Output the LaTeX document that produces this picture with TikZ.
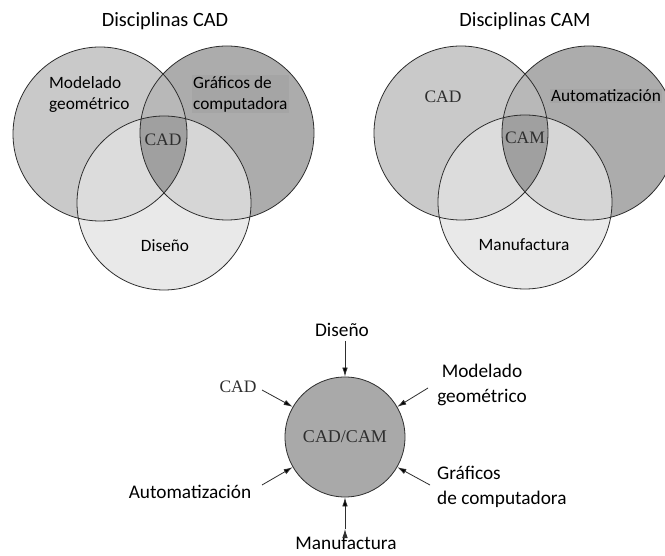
\documentclass[tikz,border=0pt]{standalone}
\usepackage{fontspec}
\setmainfont{Carlito}
\newfontfamily\timesf{Liberation Serif}
\usetikzlibrary{arrows.meta}

\definecolor{solo1}{HTML}{C9C9C9}
\definecolor{solo2}{HTML}{ACACAC}
\definecolor{solo3}{HTML}{E9E9E9}
\definecolor{uno12}{HTML}{B8B8B8}
\definecolor{uno13}{HTML}{DCDCDC}
\definecolor{uno23}{HTML}{D6D6D6}
\definecolor{todos}{HTML}{A0A0A0}
\definecolor{nucleo}{HTML}{A9A9A9}
\definecolor{linea}{HTML}{2E2E2E}

\tikzset{
    titulo/.style={font=\fontsize{20.3}{23}\selectfont},
    etiq/.style={font=\fontsize{17.3}{21}\selectfont, align=left, inner sep=1pt},
    serifa/.style={font=\timesf\fontsize{17.5}{20}\selectfont, text=black!82},
    entrada/.style={font=\fontsize{19.3}{25}\selectfont, inner sep=1pt},
    borde/.style={draw=linea, line width=0.8pt},
    flecha/.style={-{Latex[length=9pt,width=5.5pt]}, draw=linea, line width=0.8pt},
}

\newcommand{\rad}{87pt}

\begin{document}
\begin{tikzpicture}[x=1pt, y=-1pt]
    \clip (0,0) rectangle (665,556);
    \fill[white] (0,0) rectangle (665,556);

    % centros de los circulos
    \coordinate (A1) at (100,134);
    \coordinate (A2) at (227,133);
    \coordinate (A3) at (164,203);
    \coordinate (B1) at (461,133);
    \coordinate (B2) at (589,133);
    \coordinate (B3) at (525,202);

    % relleno de los dos diagramas de Venn
    \foreach \p in {A,B}{
        \fill[solo1] (\p1) circle[radius=\rad];
        \fill[solo2] (\p2) circle[radius=\rad];
        \fill[solo3] (\p3) circle[radius=\rad];
        \begin{scope}
            \clip (\p1) circle[radius=\rad];
            \fill[uno12] (\p2) circle[radius=\rad];
            \fill[uno13] (\p3) circle[radius=\rad];
            \clip (\p2) circle[radius=\rad];
            \fill[todos] (\p3) circle[radius=\rad];
        \end{scope}
        \begin{scope}
            \clip (\p2) circle[radius=\rad];
            \fill[uno23] (\p3) circle[radius=\rad];
            \clip (\p1) circle[radius=\rad];
            \fill[todos] (\p3) circle[radius=\rad];
        \end{scope}
        \draw[borde] (\p1) circle[radius=\rad]
                     (\p2) circle[radius=\rad]
                     (\p3) circle[radius=\rad];
    }

    % diagrama CAD
    \node[titulo] (tcad) at (165,21) {Disciplinas CAD};
    \node[etiq, anchor=west] (mod) at (48,94) {Modelado\\geométrico};
    \node[etiq, anchor=west, fill=todos!95!white] (graf) at (192,94) {Gráficos de\\computadora};
    \node[serifa] (cad) at (163,140) {CAD};
    \node[etiq] (dis) at (165,246) {Diseño};

    % diagrama CAM
    \node[titulo] (tcam) at (525,21) {Disciplinas CAM};
    \node[serifa] (cadb) at (443,97) {CAD};
    \node[etiq, fill=todos!95!white] (auto) at (606,96) {Automatización};
    \node[serifa] (cam) at (525,138) {CAM};
    \node[etiq] (manu) at (524,245) {Manufactura};

    % integracion CAD/CAM
    \node[circle, borde, fill=nucleo, minimum size=120pt, inner sep=0pt,
          font=\timesf\fontsize{18}{20}\selectfont, text=black!82] (hub) at (345,437) {CAD/CAM};

    \node[entrada] (edis) at (342,330) {Diseño};
    \node[entrada, align=center] (emod) at (482,385) {Modelado\\geométrico};
    \node[serifa] (ecad) at (238,387) {CAD};
    \node[entrada] (eauto) at (190,492) {Automatización};
    \node[entrada, align=left, anchor=west] (egraf) at (436,487) {Gráficos\\de computadora};
    \node[entrada] (emanu) at (346,543) {Manufactura};

    \coordinate (pdis) at (345,341);
    \coordinate (pmod) at (428,388);
    \coordinate (pcad) at (262,390);
    \coordinate (pauto) at (262,485);
    \coordinate (pgraf) at (430,485);
    \coordinate (pmanu) at (345,529);

    \path[flecha]
        (pdis) edge (hub.90)
        (pmod) edge (hub.30)
        (pcad) edge (hub.150)
        (pauto) edge (hub.210)
        (pgraf) edge (hub.330)
        (pmanu) edge (hub.270);
\end{tikzpicture}
\end{document}
